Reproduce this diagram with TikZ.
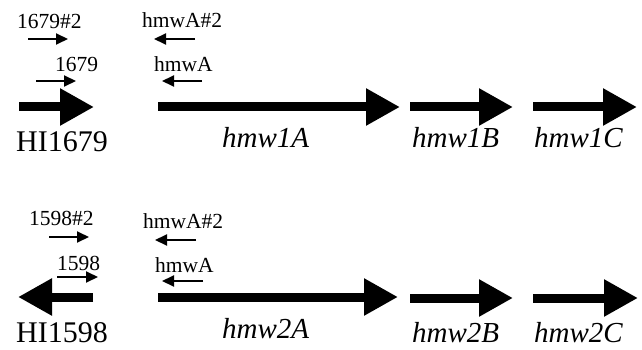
\documentclass[tikz,border=0pt]{standalone}
\usepackage{fontspec}
\setmainfont{Liberation Serif}
\usetikzlibrary{arrows.meta}
\tikzset{
  gene/.style={line width=9pt,-{Triangle[length=34pt,width=35pt]}},
  primer/.style={line width=2pt,-{Triangle[length=12pt,width=11pt]}},
  plab/.style={anchor=base west,inner sep=0pt,font=\fontsize{21.5}{24}\selectfont},
  hilab/.style={anchor=base west,inner sep=0pt,font=\fontsize{30}{34}\selectfont},
  glab/.style={anchor=base west,inner sep=0pt,font=\fontsize{29}{33}\selectfont\itshape}
}
\begin{document}
\begin{tikzpicture}[x=1pt,y=-1pt]
\useasboundingbox[fill=white] (0,0) rectangle (642,350);
% ---------- top row ----------
\coordinate (t0s) at (19,107);  \coordinate (t0e) at (94,107);
\coordinate (tAs) at (158,107); \coordinate (tAe) at (400,107);
\coordinate (tBs) at (410,107); \coordinate (tBe) at (513,107);
\coordinate (tCs) at (533,107); \coordinate (tCe) at (637,107);
\draw[gene] (t0s) -- (t0e);
\draw[gene] (tAs) -- (tAe);
\draw[gene] (tBs) -- (tBe);
\draw[gene] (tCs) -- (tCe);
\node[hilab] (hi1) at (16,151) {HI1679};
\node[glab] (g1a) at (222,147) {hmw1A};
\node[glab] (g1b) at (412,147) {hmw1B};
\node[glab] (g1c) at (534,147) {hmw1C};
% primers top
\node[plab] (p1l2) at (17,29) {1679\#2};
\coordinate (p1a2s) at (28,39); \coordinate (p1a2e) at (68,39);
\draw[primer] (p1a2s) -- (p1a2e);
\node[plab] (p1l) at (55,72) {1679};
\coordinate (p1as) at (36,81); \coordinate (p1ae) at (76,81);
\draw[primer] (p1as) -- (p1ae);
\node[plab] (h1l2) at (142,28) {hmwA\#2};
\coordinate (h1a2s) at (195,39); \coordinate (h1a2e) at (154,39);
\draw[primer] (h1a2s) -- (h1a2e);
\node[plab] (h1l) at (154,72) {hmwA};
\coordinate (h1as) at (202,81); \coordinate (h1ae) at (162,81);
\draw[primer] (h1as) -- (h1ae);
% ---------- bottom row ----------
\coordinate (b0s) at (93,297);  \coordinate (b0e) at (18,297);
\coordinate (bAs) at (158,297); \coordinate (bAe) at (398,297);
\coordinate (bBs) at (410,298); \coordinate (bBe) at (513,298);
\coordinate (bCs) at (533,298); \coordinate (bCe) at (638,298);
\draw[gene] (b0s) -- (b0e);
\draw[gene] (bAs) -- (bAe);
\draw[gene] (bBs) -- (bBe);
\draw[gene] (bCs) -- (bCe);
\node[hilab] (hi2) at (16,342) {HI1598};
\node[glab] (g2a) at (222,338) {hmw2A};
\node[glab] (g2b) at (412,342) {hmw2B};
\node[glab] (g2c) at (534,342) {hmw2C};
% primers bottom
\node[plab] (p2l2) at (29,225) {1598\#2};
\coordinate (p2a2s) at (49,237); \coordinate (p2a2e) at (89,237);
\draw[primer] (p2a2s) -- (p2a2e);
\node[plab] (p2l) at (57,270) {1598};
\coordinate (p2as) at (57,277); \coordinate (p2ae) at (98,277);
\draw[primer] (p2as) -- (p2ae);
\node[plab] (h2l2) at (143,228) {hmwA\#2};
\coordinate (h2a2s) at (196,240); \coordinate (h2a2e) at (155,240);
\draw[primer] (h2a2s) -- (h2a2e);
\node[plab] (h2l) at (155,272) {hmwA};
\coordinate (h2as) at (203,281); \coordinate (h2ae) at (162,281);
\draw[primer] (h2as) -- (h2ae);
\end{tikzpicture}
\end{document}
